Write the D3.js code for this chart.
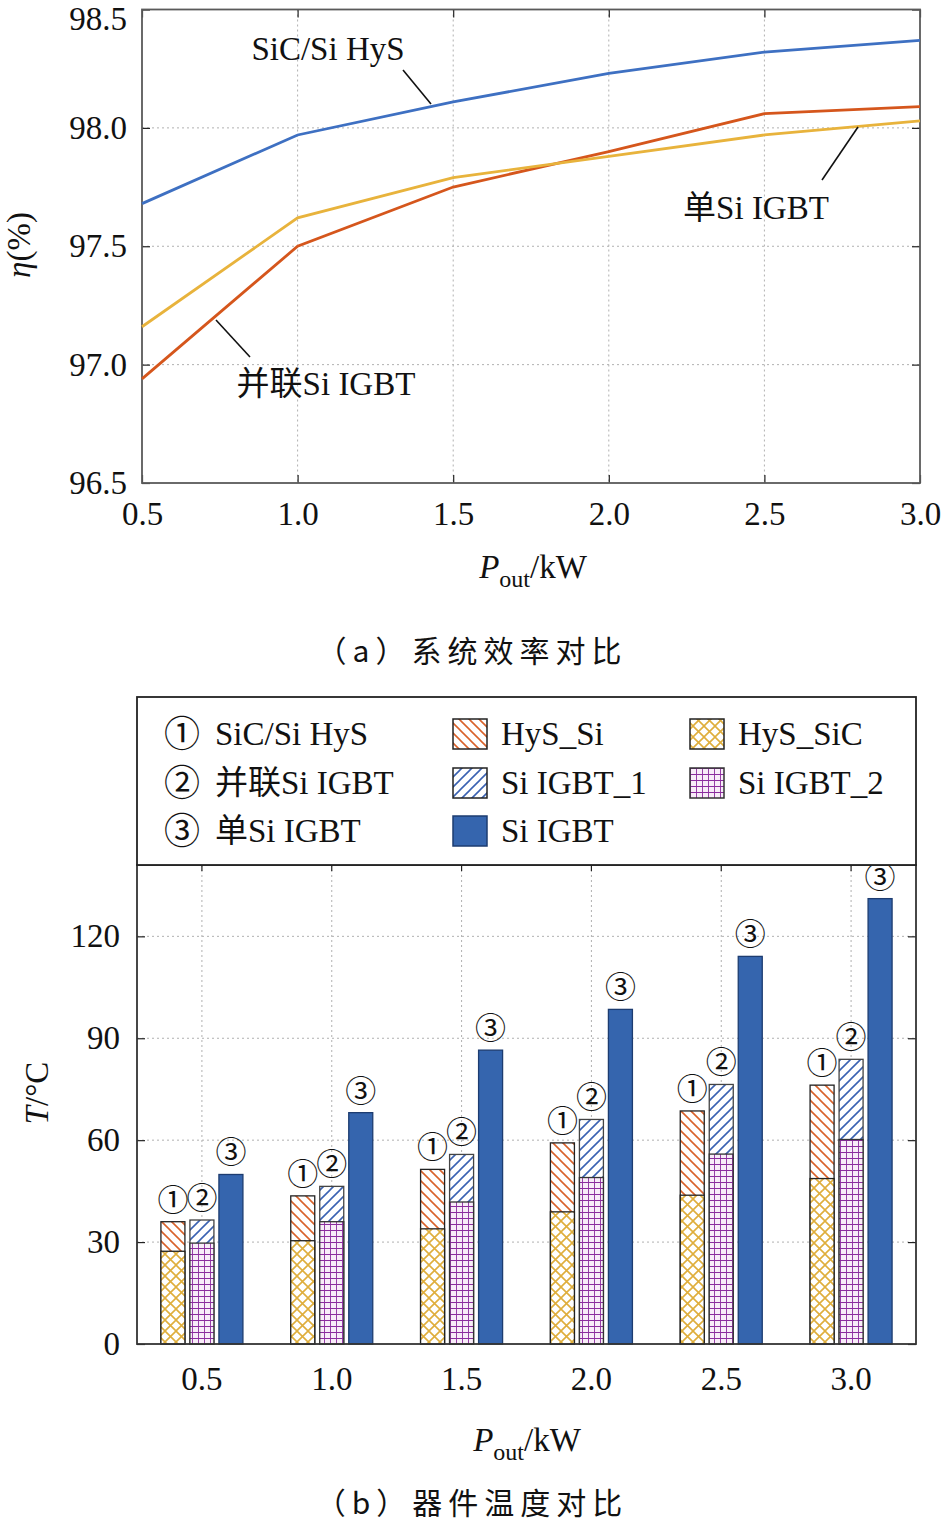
<!DOCTYPE html>
<html><head><meta charset="utf-8">
<script src="https://cdn.jsdelivr.net/npm/d3@7"></script>
<style>
html,body{margin:0;padding:0;background:#fff;}
svg{display:block;}
text{font-family:"Liberation Serif","Times New Roman","Noto Sans CJK SC",serif;fill:#111;}
.cjk{font-family:"Noto Sans CJK SC","Noto Sans CJK JP",sans-serif;}
</style></head>
<body>
<svg id="chart" width="941" height="1524"></svg>
<script>
// ---------- data ----------
const powerKW = [0.5, 1.0, 1.5, 2.0, 2.5, 3.0];
const powerLabels = ["0.5", "1.0", "1.5", "2.0", "2.5", "3.0"];
// efficiency (%)
const effHyS      = [97.68, 97.97, 98.11, 98.23, 98.32, 98.37];
const effParallel = [96.94, 97.50, 97.75, 97.90, 98.06, 98.09];
const effSingle   = [97.16, 97.62, 97.79, 97.88, 97.97, 98.03];
const effTicks = [96.5, 97.0, 97.5, 98.0, 98.5];
// device temperature (°C)
const tempHyS_Si   = [36.0, 43.6, 51.4, 59.2, 68.6, 76.2];
const tempHyS_SiC  = [27.3, 30.4, 33.9, 38.9, 43.8, 48.7];
const tempIGBT_1   = [36.5, 46.4, 55.8, 66.1, 76.4, 83.8];
const tempIGBT_2   = [29.7, 36.0, 41.8, 49.0, 55.9, 60.2];
const tempSingle   = [49.9, 68.1, 86.5, 98.5, 114.1, 131.1];
const tempTicks = [0, 30, 60, 90, 120];

const svg = d3.select("#chart");
const FS = 33;

// ---------- patterns ----------
const defs = svg.append("defs");
function hatch(id, color, dir, size) {
  const p = defs.append("pattern").attr("id", id).attr("patternUnits", "userSpaceOnUse")
    .attr("width", size).attr("height", size);
  p.append("rect").attr("width", size).attr("height", size).attr("fill", "#fff");
  const s = size;
  if (dir === "back") {
    p.append("path").attr("d", `M0,0 L${s},${s} M${-s/2},${s/2} L${s/2},${s*1.5} M${s/2},${-s/2} L${s*1.5},${s/2}`)
      .attr("stroke", color).attr("stroke-width", 1.6);
  } else {
    p.append("path").attr("d", `M0,${s} L${s},0 M${-s/2},${s/2} L${s/2},${-s/2} M${s/2},${s*1.5} L${s*1.5},${s/2}`)
      .attr("stroke", color).attr("stroke-width", 1.6);
  }
}
hatch("pHySSi", "#d9622b", "back", 10);
hatch("pIGBT1", "#3b62b2", "fwd", 10);
(function(){
  const s = 11;
  const p = defs.append("pattern").attr("id", "pHySSiC").attr("patternUnits", "userSpaceOnUse")
    .attr("width", s).attr("height", s);
  p.append("rect").attr("width", s).attr("height", s).attr("fill", "#fff");
  p.append("path").attr("d", `M0,0 L${s},${s} M0,${s} L${s},0`).attr("stroke", "#dfae3c").attr("stroke-width", 1.6);
})();
(function(){
  const s = 6;
  const p = defs.append("pattern").attr("id", "pIGBT2").attr("patternUnits", "userSpaceOnUse")
    .attr("width", s).attr("height", s);
  p.append("rect").attr("width", s).attr("height", s).attr("fill", "#f8ecf8");
  p.append("path").attr("d", `M0,0 L${s},0 M0,0 L0,${s}`).attr("stroke", "#8b2c9e").attr("stroke-width", 1.8);
})();

// ================= (a) efficiency =================
const A = {l: 142, r: 920, t: 9.5, b: 483};
const xA = d3.scaleLinear().domain([0.5, 3.0]).range([A.l, A.r]);
const yA = d3.scaleLinear().domain([96.5, 98.5]).range([A.b, A.t]);
const gA = svg.append("g");

// grid
gA.append("g").selectAll("line").data(powerKW.slice(1, -1)).join("line")
  .attr("x1", d => xA(d)).attr("x2", d => xA(d)).attr("y1", A.t).attr("y2", A.b)
  .attr("stroke", "#b0b0b0").attr("stroke-dasharray", "2,3");
gA.append("g").selectAll("line").data(effTicks.slice(1, -1)).join("line")
  .attr("y1", d => yA(d)).attr("y2", d => yA(d)).attr("x1", A.l).attr("x2", A.r)
  .attr("stroke", "#b0b0b0").attr("stroke-dasharray", "2,3");

// axes (inner ticks)
const axL = gA.append("g").attr("transform", `translate(${A.l},0)`)
  .call(d3.axisLeft(yA).tickValues(effTicks).tickSize(-8).tickPadding(14).tickFormat(d3.format(".1f")));
const axR = gA.append("g").attr("transform", `translate(${A.r},0)`)
  .call(d3.axisRight(yA).tickValues(effTicks).tickSize(-8).tickFormat(""));
const axB = gA.append("g").attr("transform", `translate(0,${A.b})`)
  .call(d3.axisBottom(xA).tickValues(powerKW).tickSize(-8).tickPadding(19).tickFormat((d, i) => powerLabels[i]));
const axT = gA.append("g").attr("transform", `translate(0,${A.t})`)
  .call(d3.axisTop(xA).tickValues(powerKW).tickSize(-8).tickFormat(""));
[axL, axR, axB, axT].forEach(a => {
  a.select(".domain").remove();
  a.selectAll(".tick line").attr("stroke", "#222").attr("stroke-width", 1.2);
  a.selectAll("text").attr("font-size", FS).attr("fill", "#111")
    .style("font-family", '"Liberation Serif","Times New Roman",serif');
});
axL.selectAll("text").attr("dx", "-1");
axL.selectAll(".tick").filter(d => d === 98.5).select("text").attr("dy", "0.62em");
gA.append("rect").attr("x", A.l).attr("y", A.t).attr("width", A.r - A.l).attr("height", A.b - A.t)
  .attr("fill", "none").attr("stroke", "#5a5a5a").attr("stroke-width", 1.8);

// lines
const lineGen = d3.line().x((d, i) => xA(powerKW[i])).y(d => yA(d));
const series = [
  {v: effParallel, c: "#d5561c"},
  {v: effSingle, c: "#e8b33c"},
  {v: effHyS, c: "#3e70c2"}
];
gA.append("g").selectAll("path").data(series).join("path")
  .attr("d", d => lineGen(d.v)).attr("fill", "none").attr("stroke", d => d.c).attr("stroke-width", 2.8);

// annotations
function leader(x1, y1, x2, y2) {
  gA.append("line").attr("x1", x1).attr("y1", y1).attr("x2", x2).attr("y2", y2)
    .attr("stroke", "#111").attr("stroke-width", 1.6);
}
gA.append("text").attr("x", 328).attr("y", 60).attr("text-anchor", "middle").attr("font-size", FS).text("SiC/Si HyS");
leader(403, 70, 431, 104);
gA.append("text").attr("x", 756).attr("y", 219).attr("text-anchor", "middle").attr("font-size", FS).text("单Si IGBT");
leader(822, 180, 858, 127);
gA.append("text").attr("x", 326).attr("y", 395).attr("text-anchor", "middle").attr("font-size", FS).text("并联Si IGBT");
leader(216, 320, 250, 357);

// axis titles
gA.append("text").attr("transform", "translate(30,245) rotate(-90)").attr("text-anchor", "middle")
  .attr("font-size", FS)
  .call(t => { t.append("tspan").attr("font-style", "italic").text("η"); t.append("tspan").text("(%)"); });
gA.append("text").attr("x", 533).attr("y", 578).attr("text-anchor", "middle").attr("font-size", FS)
  .call(t => {
    t.append("tspan").attr("font-style", "italic").text("P");
    t.append("tspan").attr("font-size", 24).attr("dy", 9).text("out");
    t.append("tspan").attr("dy", -9).text("/kW");
  });
gA.append("text").attr("class", "cjk").attr("x", 472).attr("y", 662).attr("text-anchor", "middle")
  .attr("font-size", 30).attr("letter-spacing", 6).text("（a）系统效率对比");

// ================= (b) temperature =================
const B = {l: 137, r: 916, t: 865, b: 1344, legT: 697};
const xB = d3.scaleBand().domain(powerLabels).range([B.l, B.r]).padding(0);
const yB = d3.scaleLinear().domain([0, 141]).range([B.b, B.t]);
const gB = svg.append("g");
const cx = (i) => xB(powerLabels[i]) + xB.bandwidth() / 2;

// grid
gB.append("g").selectAll("line").data(powerLabels).join("line")
  .attr("x1", (d, i) => cx(i)).attr("x2", (d, i) => cx(i)).attr("y1", B.t).attr("y2", B.b)
  .attr("stroke", "#b0b0b0").attr("stroke-dasharray", "2,3");
gB.append("g").selectAll("line").data(tempTicks.slice(1)).join("line")
  .attr("y1", d => yB(d)).attr("y2", d => yB(d)).attr("x1", B.l).attr("x2", B.r)
  .attr("stroke", "#b0b0b0").attr("stroke-dasharray", "2,3");

const bL = gB.append("g").attr("transform", `translate(${B.l},0)`)
  .call(d3.axisLeft(yB).tickValues(tempTicks).tickSize(-8).tickPadding(17));
const bR = gB.append("g").attr("transform", `translate(${B.r},0)`)
  .call(d3.axisRight(yB).tickValues(tempTicks).tickSize(-8).tickFormat(""));
const bB = gB.append("g").attr("transform", `translate(0,${B.b})`)
  .call(d3.axisBottom(xB).tickSize(-6).tickPadding(23));
const bT = gB.append("g").attr("transform", `translate(0,${B.t})`)
  .call(d3.axisTop(xB).tickSize(-6).tickFormat(""));
[bL, bR, bB, bT].forEach(a => {
  a.select(".domain").remove();
  a.selectAll(".tick line").attr("stroke", "#222").attr("stroke-width", 1.2);
  a.selectAll("text").attr("font-size", FS).attr("fill", "#111")
    .style("font-family", '"Liberation Serif","Times New Roman",serif');
});

// bars
const bw = 24, off = 29;
const bars = gB.append("g");
function drawBars(vals, dx, fill, stroke) {
  bars.append("g").selectAll("rect").data(vals).join("rect")
    .attr("x", (d, i) => cx(i) + dx - bw / 2).attr("width", bw)
    .attr("y", d => yB(d)).attr("height", d => yB(0) - yB(d))
    .attr("fill", fill).attr("stroke", stroke).attr("stroke-width", 1.3);
}
drawBars(tempHyS_Si, -off, "url(#pHySSi)", "#222");
drawBars(tempHyS_SiC, -off, "url(#pHySSiC)", "#222");
drawBars(tempIGBT_1, 0, "url(#pIGBT1)", "#444");
drawBars(tempIGBT_2, 0, "url(#pIGBT2)", "#333");
drawBars(tempSingle, off, "#3565ae", "#1d3c70");

// circled labels
const lbls = [{v: tempHyS_Si, dx: -off, t: "①"}, {v: tempIGBT_1, dx: 0, t: "②"}, {v: tempSingle, dx: off, t: "③"}];
lbls.forEach(L => {
  bars.append("g").selectAll("text").data(L.v).join("text")
    .attr("class", "cjk").attr("x", (d, i) => cx(i) + L.dx).attr("y", d => yB(d) - 11)
    .attr("text-anchor", "middle").attr("font-size", 31).text(L.t);
});

gB.append("rect").attr("x", B.l).attr("y", B.t).attr("width", B.r - B.l).attr("height", B.b - B.t)
  .attr("fill", "none").attr("stroke", "#333").attr("stroke-width", 1.8);

// legend
gB.append("rect").attr("x", B.l).attr("y", B.legT).attr("width", B.r - B.l).attr("height", B.t - B.legT)
  .attr("fill", "#fff").attr("stroke", "#222").attr("stroke-width", 1.8);
const rowsY = [734, 783, 831];
const legCol1 = [["①", "SiC/Si HyS"], ["②", "并联Si IGBT"], ["③", "单Si IGBT"]];
legCol1.forEach((d, i) => {
  gB.append("text").attr("class", "cjk").attr("x", 182).attr("y", rowsY[i] + 13).attr("text-anchor", "middle")
    .attr("font-size", 36).text(d[0]);
  gB.append("text").attr("x", 215).attr("y", rowsY[i] + 11).attr("font-size", FS).text(d[1]);
});
const legSw = [
  {x: 453, row: 0, f: "url(#pHySSi)", s: "#222", t: "HyS_Si"},
  {x: 453, row: 1, f: "url(#pIGBT1)", s: "#222", t: "Si IGBT_1"},
  {x: 453, row: 2, f: "#3565ae", s: "#1d3c70", t: "Si IGBT"},
  {x: 690, row: 0, f: "url(#pHySSiC)", s: "#222", t: "HyS_SiC"},
  {x: 690, row: 1, f: "url(#pIGBT2)", s: "#333", t: "Si IGBT_2"}
];
legSw.forEach(d => {
  gB.append("rect").attr("x", d.x).attr("y", rowsY[d.row] - 15).attr("width", 34).attr("height", 30)
    .attr("fill", d.f).attr("stroke", d.s).attr("stroke-width", 1.5);
  gB.append("text").attr("x", d.x + 48).attr("y", rowsY[d.row] + 11).attr("font-size", FS).text(d.t);
});

// axis titles
gB.append("text").attr("transform", "translate(48,1093) rotate(-90)").attr("text-anchor", "middle")
  .attr("font-size", FS)
  .call(t => { t.append("tspan").attr("font-style", "italic").text("T"); t.append("tspan").text("/°C"); });
gB.append("text").attr("x", 527).attr("y", 1451).attr("text-anchor", "middle").attr("font-size", FS)
  .call(t => {
    t.append("tspan").attr("font-style", "italic").text("P");
    t.append("tspan").attr("font-size", 24).attr("dy", 9).text("out");
    t.append("tspan").attr("dy", -9).text("/kW");
  });
gB.append("text").attr("class", "cjk").attr("x", 472).attr("y", 1514).attr("text-anchor", "middle")
  .attr("font-size", 30).attr("letter-spacing", 6).text("（b）器件温度对比");
</script>
</body></html>
